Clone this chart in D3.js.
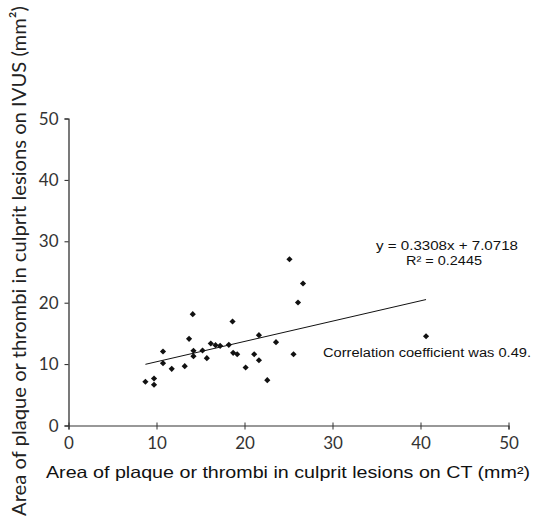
<!DOCTYPE html>
<html>
<head>
<meta charset="utf-8">
<script src="https://cdn.jsdelivr.net/npm/d3@7/dist/d3.min.js"></script>
<style>
  html, body { margin: 0; padding: 0; background: #fff; }
  svg { display: block; }
</style>
</head>
<body>
<svg id="chart" width="537" height="521"></svg>
<script>
// ---- data ----
const ctArea = [8.74, 9.72, 9.72, 10.74, 10.74, 11.73, 13.21, 13.70, 14.12, 14.20, 14.20,
                15.23, 15.72, 16.17, 16.71, 17.23, 18.22, 18.64, 18.71, 19.17, 20.13,
                21.10, 21.64, 21.64, 22.59, 23.58, 25.11, 25.57, 26.08, 26.65, 40.63];
const ivusArea = [7.12, 7.65, 6.63, 12.05, 10.15, 9.23, 9.66, 14.12, 18.13, 12.17, 11.29,
                  12.21, 10.96, 13.36, 13.08, 12.98, 13.14, 16.94, 11.84, 11.61, 9.45,
                  11.61, 14.71, 10.63, 7.38, 13.57, 27.08, 11.61, 20.03, 23.13, 14.54];
const slope = 0.3308;
const intercept = 7.0718;
const xTicks = [0, 10, 20, 30, 40, 50];
const yTicks = [0, 10, 20, 30, 40, 50];
const eqLabel = "y = 0.3308x + 7.0718";
const r2Label = "R\u00B2 = 0.2445";
const corrLabel = "Correlation coefficient was 0.49.";
const xTitle = "Area of plaque or thrombi in culprit lesions on CT (mm\u00B2)";
const yTitle = "Area of plaque or thrombi in culprit lesions on IVUS (mm\u00B2)";

// ---- drawing ----
const svg = d3.select("#chart");
const x = d3.scaleLinear().domain([0, 50]).range([68.5, 508.5]);
const y = d3.scaleLinear().domain([0, 50]).range([425.5, 118.5]);

const tickFont = "Lato, 'Open Sans', sans-serif";
const arial = "'Liberation Sans', Arial, sans-serif";

function fit(sel, w) {
  sel.attr("textLength", w).attr("lengthAdjust", "spacingAndGlyphs");
  return sel;
}

// Y axis
const yAxis = svg.append("g")
  .attr("transform", `translate(${x(0)},0)`)
  .call(d3.axisLeft(y).tickValues(yTicks).tickSize(4).tickPadding(6).tickFormat(d3.format("d")));
yAxis.select(".domain").attr("stroke", "#222").attr("stroke-width", 1.2);
yAxis.selectAll(".tick line").attr("stroke", "#222");
yAxis.selectAll(".tick text")
  .attr("font-family", tickFont).attr("font-size", 17).attr("fill", "#333")
  .attr("dy", "0.33em");

// X axis
const xAxis = svg.append("g")
  .attr("transform", `translate(0,${y(0)})`)
  .call(d3.axisBottom(x).tickValues(xTicks).tickSize(4).tickPadding(7).tickFormat(d3.format("d")));
xAxis.select(".domain").attr("stroke", "#333").attr("stroke-width", 1.2);
xAxis.selectAll(".tick line").attr("stroke", "#333").attr("y1", -3);
xAxis.selectAll(".tick text")
  .attr("font-family", tickFont).attr("font-size", 17).attr("fill", "#333");

// Trendline
const xMin = d3.min(ctArea), xMax = d3.max(ctArea);
svg.append("line")
  .attr("x1", x(xMin)).attr("y1", y(slope * xMin + intercept))
  .attr("x2", x(xMax)).attr("y2", y(slope * xMax + intercept))
  .attr("stroke", "#111").attr("stroke-width", 1);

// Points
const diamond = d3.symbol().type(d3.symbolSquare).size(19);
svg.append("g").selectAll("path")
  .data(ctArea.map((v, i) => [v, ivusArea[i]]))
  .join("path")
  .attr("d", diamond)
  .attr("transform", d => `translate(${x(d[0])},${y(d[1])}) rotate(45)`)
  .attr("fill", "#111");

// Annotations
fit(svg.append("text")
  .attr("x", 447).attr("y", 250).attr("text-anchor", "middle")
  .attr("font-family", arial).attr("font-size", 12).attr("fill", "#111")
  .text(eqLabel), 142);
fit(svg.append("text")
  .attr("x", 444).attr("y", 265).attr("text-anchor", "middle")
  .attr("font-family", arial).attr("font-size", 12).attr("fill", "#111")
  .text(r2Label), 76);
fit(svg.append("text")
  .attr("x", 323).attr("y", 357).attr("text-anchor", "start")
  .attr("font-family", arial).attr("font-size", 12.5).attr("fill", "#111")
  .text(corrLabel), 208);

// Axis titles
fit(svg.append("text")
  .attr("x", 288).attr("y", 478).attr("text-anchor", "middle")
  .attr("font-family", arial).attr("font-size", 16.5).attr("fill", "#111")
  .text(xTitle), 484);
fit(svg.append("text")
  .attr("transform", "translate(26,261) rotate(-90)")
  .attr("text-anchor", "middle")
  .attr("font-family", tickFont).attr("font-size", 20).attr("fill", "#222")
  .text(yTitle), 510);
</script>
</body>
</html>
